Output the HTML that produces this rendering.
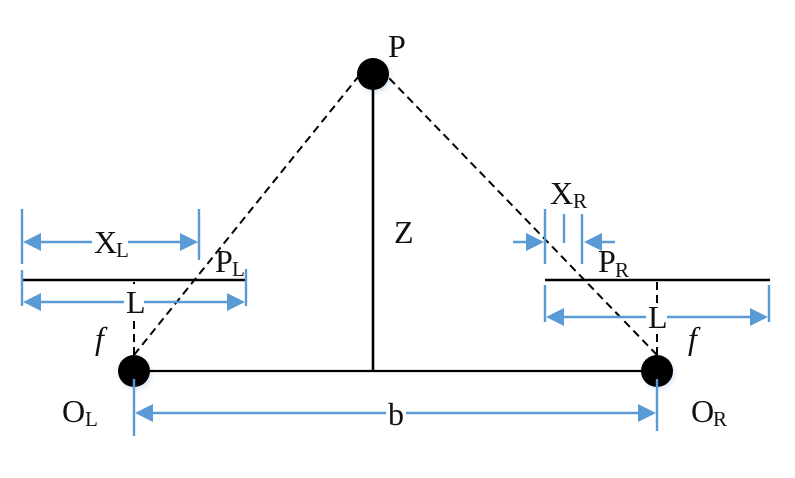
<!DOCTYPE html>
<html>
<head>
<meta charset="utf-8">
<style>
html,body{margin:0;padding:0;background:#fff;width:795px;height:478px;overflow:hidden}
svg{display:block}
text{font-family:"Liberation Serif",serif;fill:#111}
.m{font-size:32px}
.s{font-size:21px}
</style>
</head>
<body>
<svg width="795" height="478" viewBox="0 0 795 478" xmlns="http://www.w3.org/2000/svg">
<defs>
<filter id="gl" x="-50%" y="-50%" width="200%" height="200%"><feGaussianBlur stdDeviation="2.5"/></filter>
</defs>
<!-- glow -->
<g fill="#9cc3e8" opacity=".35" filter="url(#gl)">
<circle cx="375" cy="77" r="16"/><circle cx="136" cy="374" r="16"/><circle cx="659" cy="374" r="16"/>
</g>
<!-- black lines -->
<g stroke="#000" fill="none">
<line x1="373" y1="74" x2="373" y2="371" stroke-width="2.6"/>
<line x1="134" y1="371" x2="657" y2="371" stroke-width="2.2"/>
<line x1="22" y1="280" x2="245" y2="280" stroke-width="2.4"/>
<line x1="545" y1="280" x2="770" y2="280" stroke-width="2.4"/>
<g stroke-width="2" stroke-dasharray="8 5">
<line x1="134" y1="355" x2="358" y2="77"/>
<line x1="657" y1="355" x2="389" y2="78"/>
<line x1="134" y1="355" x2="134" y2="280"/>
<line x1="657" y1="355" x2="657" y2="280"/>
</g>
</g>
<circle cx="373" cy="74" r="16" fill="#000"/>
<circle cx="134" cy="371" r="16" fill="#000"/>
<circle cx="657" cy="371" r="16" fill="#000"/>
<!-- white behind the L labels -->
<rect x="124" y="284" width="22" height="36" fill="#fff"/>
<rect x="646" y="304" width="22" height="30" fill="#fff"/>
<!-- blue dimension lines -->
<g stroke="#5b9bd5" stroke-width="2.4" fill="none">
<line x1="22" y1="209" x2="22" y2="264"/>
<line x1="22" y1="270" x2="22" y2="306"/>
<line x1="199" y1="209" x2="199" y2="260"/>
<line x1="246" y1="269" x2="246" y2="306"/>
<line x1="134" y1="379" x2="134" y2="436"/>
<line x1="657" y1="379" x2="657" y2="431"/>
<line x1="545" y1="209" x2="545" y2="264"/>
<line x1="564" y1="214" x2="564" y2="243"/>
<line x1="582" y1="214" x2="582" y2="264"/>
<line x1="545" y1="285" x2="545" y2="322"/>
<line x1="769" y1="285" x2="769" y2="322"/>
<line x1="30" y1="242" x2="92" y2="242"/>
<line x1="128" y1="242" x2="190" y2="242"/>
<line x1="30" y1="302" x2="124" y2="302"/>
<line x1="144" y1="302" x2="236" y2="302"/>
<line x1="140" y1="413" x2="386" y2="413"/>
<line x1="406" y1="413" x2="650" y2="413"/>
<line x1="513" y1="242" x2="535" y2="242"/>
<line x1="592" y1="242" x2="615" y2="242"/>
<line x1="553" y1="317" x2="646" y2="317"/>
<line x1="667" y1="317" x2="760" y2="317"/>
</g>
<g fill="#5b9bd5">
<polygon points="23,242 41,233 41,251"/>
<polygon points="198,242 180,233 180,251"/>
<polygon points="23,302 41,293 41,311"/>
<polygon points="245,302 227,293 227,311"/>
<polygon points="135,413 153,404 153,422"/>
<polygon points="656,413 638,404 638,422"/>
<polygon points="544,242 526,233 526,251"/>
<polygon points="584,242 602,233 602,251"/>
<polygon points="546,317 564,308 564,326"/>
<polygon points="768,317 750,308 750,326"/>
</g>
<!-- labels -->
<text class="m" x="388" y="57">P</text>
<text class="m" x="394" y="243">Z</text>
<text class="m" x="94" y="253">X</text><text class="s" x="116" y="257">L</text>
<text class="m" x="215" y="272">P</text><text class="s" x="232" y="276">L</text>
<text class="m" x="126" y="313">L</text>
<text class="m" x="95" y="349" font-style="italic">f</text>
<text class="m" x="62" y="422">O</text><text class="s" x="85" y="426">L</text>
<text class="m" x="388" y="425">b</text>
<text class="m" x="550" y="204">X</text><text class="s" x="573" y="208">R</text>
<text class="m" x="598" y="272">P</text><text class="s" x="615" y="277">R</text>
<text class="m" x="648" y="328">L</text>
<text class="m" x="688" y="349" font-style="italic">f</text>
<text class="m" x="691" y="422">O</text><text class="s" x="713" y="426">R</text>
</svg>
</body>
</html>
